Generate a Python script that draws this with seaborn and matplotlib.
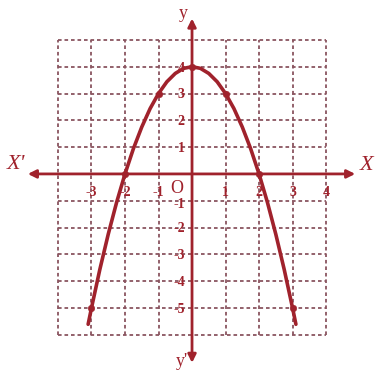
import matplotlib
matplotlib.use('Agg')
import matplotlib.pyplot as plt
import seaborn as sns

sns.set_style('white')
plt.rcParams['font.family'] = ['Liberation Serif', 'DejaVu Serif']

RED = '#a0222c'
GRID = '#8a5560'

# curve y = 4 - x^2
curve_x = [-3.1, -3.0, -2.75, -2.5, -2.25, -2.0, -1.75, -1.5, -1.25, -1.0, -0.75, -0.5, -0.25, 0.0,
           0.25, 0.5, 0.75, 1.0, 1.25, 1.5, 1.75, 2.0, 2.25, 2.5, 2.75, 3.0, 3.1]
curve_y = [-5.61, -5.0, -3.56, -2.25, -1.06, 0.0, 0.94, 1.75, 2.44, 3.0, 3.44, 3.75, 3.94, 4.0,
           3.94, 3.75, 3.44, 3.0, 2.44, 1.75, 0.94, 0.0, -1.06, -2.25, -3.56, -5.0, -5.61]

# plotted points
pts_x = [-3, -2, -1, 0, 1, 2, 3]
pts_y = [-5, 0, 3, 4, 3, 0, -5]

grid_x = [-4, -3, -2, -1, 0, 1, 2, 3, 4]
grid_y = [-6, -5, -4, -3, -2, -1, 0, 1, 2, 3, 4, 5]

xtick_vals = [-3, -2, -1, 1, 2, 3, 4]
xtick_labels = ['-3', '-2', '-1', '1', '2', '3', '4']
ytick_vals = [4, 3, 2, 1, -1, -2, -3, -4, -5]
ytick_labels = ['4', '3', '2', '1', '-1', '-2', '-3', '-4', '-5']

fig = plt.figure(figsize=(3.76, 3.76), dpi=100)
ax = fig.add_axes([0, 0, 1, 1])
ax.set_xlim(-5.73, 5.49)
ax.set_ylim(-7.54, 6.49)
ax.axis('off')

# dashed grid
ax.vlines(grid_x, min(grid_y), max(grid_y), colors=GRID, linestyles=(0, (2, 1.6)), linewidth=1.3)
ax.hlines(grid_y, min(grid_x), max(grid_x), colors=GRID, linestyles=(0, (2, 1.6)), linewidth=1.3)

# axes with arrows
arrow = dict(arrowstyle='<|-|>', color=RED, lw=2, mutation_scale=12, shrinkA=0, shrinkB=0)
ax.annotate('', xy=(4.87, 0), xytext=(-4.9, 0), arrowprops=arrow)
ax.annotate('', xy=(0, 5.8), xytext=(0, -7.05), arrowprops=arrow)

# parabola
sns.lineplot(x=curve_x, y=curve_y, ax=ax, color=RED, linewidth=2.6, sort=False)
sns.scatterplot(x=pts_x, y=pts_y, ax=ax, color=RED, s=22, edgecolor=RED, zorder=5)

# tick labels
for v, lab in zip(xtick_vals, xtick_labels):
    ax.text(v, -0.68, lab, ha='center', va='center', fontsize=10, fontweight='bold', color=RED)
ax.text(-0.45, -0.55, 'O', ha='center', va='center', fontsize=13, color=RED)
for v, lab in zip(ytick_vals, ytick_labels):
    dy = -0.15 if v == -1 else -0.05
    ax.text(-0.22, v + dy, lab, ha='right', va='center', fontsize=10, fontweight='bold', color=RED)

# axis names
ax.text(-5.25, 0.35, "X'", ha='center', va='center', fontsize=16, style='italic', color=RED)
ax.text(5.2, 0.3, 'X', ha='center', va='center', fontsize=16, style='italic', color=RED)
ax.text(-0.27, 6.0, 'y', ha='center', va='center', fontsize=13, color=RED)
ax.text(-0.3, -7.0, "y'", ha='center', va='center', fontsize=13, color=RED)

plt.savefig('out.png', dpi=100)
